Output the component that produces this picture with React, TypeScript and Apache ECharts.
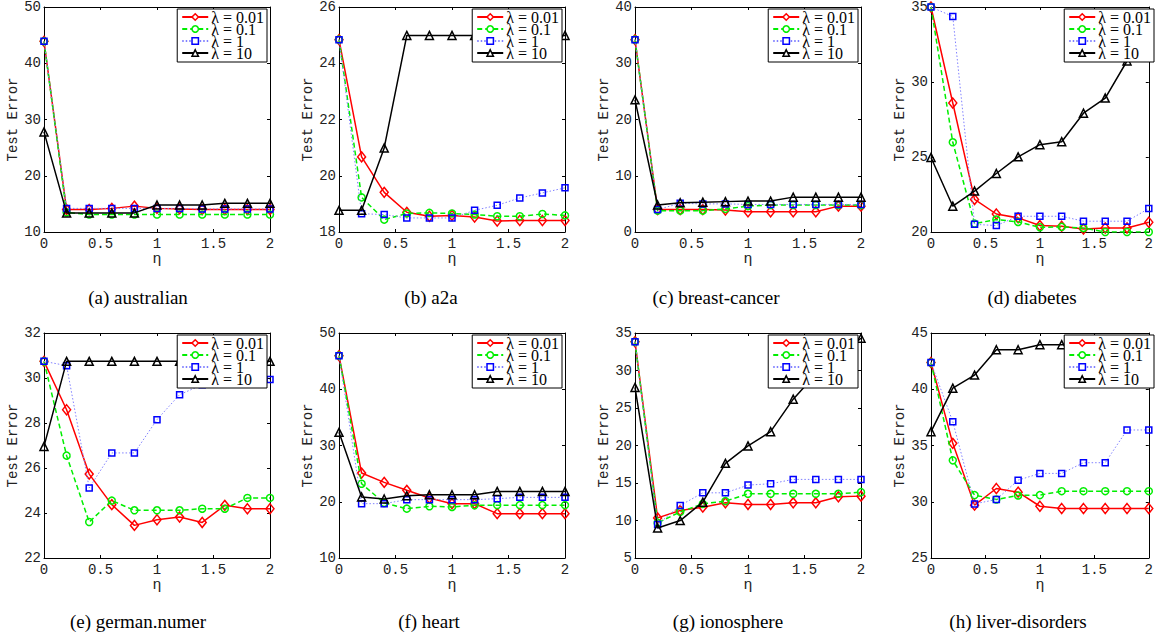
import React, { useEffect, useRef } from "react";
import * as echarts from "echarts";

const etas = [0, 0.2, 0.4, 0.6, 0.8, 1.0, 1.2, 1.4, 1.6, 1.8, 2.0];
const lambdaNames = ["λ = 0.01", "λ = 0.1", "λ = 1", "λ = 10"];
const captions = [
  "(a) australian",
  "(b) a2a",
  "(c) breast-cancer",
  "(d) diabetes",
  "(e) german.numer",
  "(f) heart",
  "(g) ionosphere",
  "(h) liver-disorders",
];
const yMins = [10, 18, 0, 20, 22, 10, 5, 25];
const yMaxs = [50, 26, 40, 35, 32, 50, 35, 45];
const yIntervals = [10, 2, 10, 5, 2, 10, 5, 5];

// (a) australian
const australianL001 = [43.9, 14.0, 14.0, 14.2, 14.6, 14.2, 14.1, 14.0, 14.0, 14.0, 14.0];
const australianL01 = [43.9, 13.5, 13.1, 13.1, 13.1, 13.1, 13.1, 13.1, 13.1, 13.1, 13.1];
const australianL1 = [43.9, 14.2, 14.2, 14.2, 14.2, 14.2, 14.2, 14.1, 14.1, 14.1, 14.1];
const australianL10 = [27.8, 13.4, 13.4, 13.4, 13.4, 14.8, 14.8, 14.8, 15.1, 15.1, 15.1];
// (b) a2a
const a2aL001 = [24.84, 20.67, 19.41, 18.7, 18.56, 18.59, 18.53, 18.39, 18.41, 18.41, 18.41];
const a2aL01 = [24.84, 19.23, 18.44, 18.66, 18.68, 18.66, 18.62, 18.56, 18.56, 18.64, 18.59];
const a2aL1 = [24.84, 18.65, 18.62, 18.5, 18.5, 18.5, 18.77, 18.95, 19.21, 19.39, 19.57];
const a2aL10 = [18.77, 18.77, 20.99, 24.99, 24.99, 24.99, 24.99, 24.99, 24.99, 24.99, 24.99];
// (c) breast-cancer
const breastL001 = [34.2, 4.0, 4.0, 4.0, 3.9, 3.6, 3.6, 3.6, 3.6, 4.6, 4.6];
const breastL01 = [34.2, 3.8, 3.8, 3.8, 4.1, 4.6, 4.8, 4.8, 4.8, 4.8, 4.8];
const breastL1 = [34.2, 4.0, 5.1, 5.0, 5.0, 4.9, 4.9, 4.9, 4.9, 4.9, 4.9];
const breastL10 = [23.5, 4.8, 5.2, 5.3, 5.4, 5.5, 5.5, 6.2, 6.2, 6.2, 6.2];
// (d) diabetes
const diabetesL001 = [35.0, 28.6, 22.17, 21.2, 20.94, 20.43, 20.38, 20.2, 20.27, 20.27, 20.65];
const diabetesL01 = [35.0, 25.98, 20.56, 20.83, 20.67, 20.31, 20.34, 20.27, 20.0, 20.0, 20.0];
const diabetesL1 = [35.0, 34.37, 20.51, 20.43, 21.05, 21.05, 21.05, 20.72, 20.72, 20.72, 21.57];
const diabetesL10 = [24.97, 21.72, 22.73, 23.9, 25.01, 25.82, 26.02, 27.92, 28.93, 31.4, 33.3];
// (e) german.numer
const germanL001 = [30.74, 28.59, 25.73, 24.37, 23.45, 23.7, 23.82, 23.58, 24.34, 24.19, 24.19];
const germanL01 = [30.74, 26.55, 23.6, 24.55, 24.12, 24.12, 24.12, 24.19, 24.19, 24.67, 24.67];
const germanL1 = [30.74, 30.55, 25.11, 26.67, 26.67, 28.15, 29.26, 29.7, 29.9, 29.9, 29.93];
const germanL10 = [26.96, 30.74, 30.74, 30.74, 30.74, 30.74, 30.74, 30.74, 30.74, 30.74, 30.74];
// (f) heart
const heartL001 = [45.97, 25.1, 23.44, 22.03, 20.67, 19.66, 19.66, 17.88, 17.88, 17.88, 17.88];
const heartL01 = [45.97, 23.2, 19.78, 18.77, 19.19, 19.07, 19.37, 19.4, 19.4, 19.4, 19.4];
const heartL1 = [45.97, 19.66, 19.66, 20.37, 20.37, 20.37, 20.37, 20.55, 20.78, 20.78, 20.78];
const heartL10 = [32.34, 20.84, 20.49, 21.07, 21.25, 21.25, 21.25, 21.84, 21.84, 21.84, 21.84];
// (g) ionosphere
const ionoL001 = [33.84, 10.35, 11.33, 11.78, 12.36, 12.14, 12.14, 12.36, 12.36, 13.16, 13.25];
const ionoL01 = [33.84, 9.68, 11.15, 12.22, 12.58, 13.56, 13.56, 13.56, 13.56, 13.56, 13.78];
const ionoL1 = [33.84, 9.46, 12.0, 13.69, 13.69, 14.72, 14.9, 15.48, 15.48, 15.48, 15.48];
const ionoL10 = [27.74, 9.01, 9.99, 12.45, 17.62, 19.94, 21.85, 26.18, 29.5, 31.8, 34.3];
// (h) liver-disorders
const liverL001 = [42.38, 35.19, 29.7, 31.18, 30.85, 29.6, 29.4, 29.4, 29.4, 29.4, 29.4];
const liverL01 = [42.38, 33.68, 30.59, 30.2, 30.56, 30.59, 30.94, 30.94, 30.94, 30.94, 30.94];
const liverL1 = [42.38, 37.12, 29.81, 30.2, 31.92, 32.52, 32.52, 33.47, 33.47, 36.38, 36.38];
const liverL10 = [36.23, 40.1, 41.26, 43.51, 43.51, 43.96, 43.96, 43.96, 43.96, 43.96, 43.96];

const panelData = [
  [australianL001, australianL01, australianL1, australianL10],
  [a2aL001, a2aL01, a2aL1, a2aL10],
  [breastL001, breastL01, breastL1, breastL10],
  [diabetesL001, diabetesL01, diabetesL1, diabetesL10],
  [germanL001, germanL01, germanL1, germanL10],
  [heartL001, heartL01, heartL1, heartL10],
  [ionoL001, ionoL01, ionoL1, ionoL10],
  [liverL001, liverL01, liverL1, liverL10],
];

const MONO = "'Liberation Mono', monospace";
const SERIF = "'Liberation Serif', serif";

const colLefts = [44, 339, 635, 931];
const rowTops = [7, 333];
const GW = 226;
const GH = 225;
const captionX = [138, 431, 716, 1032, 138, 429, 728, 1018];
const captionY = [297, 621];

const seriesStyles = [
  { color: "#ff0000", lineColor: "#ff0000", symbol: "diamond", size: [8, 10], type: "solid", width: 1.5 },
  { color: "#00ee00", lineColor: "#00ee00", symbol: "circle", size: 7, type: [5, 3], width: 1.5 },
  { color: "#0000ff", lineColor: "#8080ff", symbol: "rect", size: 6, type: [1.5, 2], width: 1 },
  { color: "#000000", lineColor: "#000000", symbol: "triangle", size: 8, type: "solid", width: 1.5 },
];

function buildOption() {
  const grid: any[] = [];
  const xAxis: any[] = [];
  const yAxis: any[] = [];
  const series: any[] = [];
  const legend: any[] = [];
  const graphic: any[] = [];

  for (let p = 0; p < 8; p++) {
    const col = p % 4;
    const row = Math.floor(p / 4);
    const left = colLefts[col];
    const top = rowTops[row];
    grid.push({ left, top, width: GW, height: GH, containLabel: false });

    const baseAxis = {
      gridIndex: p,
      type: "value",
      axisLine: { show: true, onZero: false, lineStyle: { color: "#000", width: 1 } },
      axisTick: { show: true, inside: true, length: 3, lineStyle: { color: "#000", width: 1 } },
      splitLine: { show: false },
    };
    xAxis.push({
      ...baseAxis,
      position: "bottom",
      min: 0,
      max: 2,
      interval: 0.5,
      axisLabel: { fontFamily: MONO, fontSize: 14, color: "#222", margin: 5 },
      name: "η",
      nameLocation: "middle",
      nameGap: 19,
      nameTextStyle: { fontFamily: MONO, fontSize: 15, color: "#222" },
    });
    xAxis.push({
      ...baseAxis,
      position: "top",
      min: 0,
      max: 2,
      interval: 0.5,
      axisLabel: { show: false },
    });
    yAxis.push({
      ...baseAxis,
      position: "left",
      min: yMins[p],
      max: yMaxs[p],
      interval: yIntervals[p],
      axisLabel: { fontFamily: MONO, fontSize: 14, color: "#222", margin: 3 },
      name: "Test Error",
      nameLocation: "middle",
      nameGap: 22,
      nameTextStyle: { fontFamily: MONO, fontSize: 14, color: "#222" },
    });
    yAxis.push({
      ...baseAxis,
      position: "right",
      min: yMins[p],
      max: yMaxs[p],
      interval: yIntervals[p],
      axisLabel: { show: false },
    });

    for (let s = 0; s < 4; s++) {
      const st = seriesStyles[s];
      series.push({
        type: "line",
        name: lambdaNames[s],
        xAxisIndex: 2 * p,
        yAxisIndex: 2 * p,
        data: etas.map((x, i) => [x, panelData[p][s][i]]),
        symbol: st.symbol,
        symbolSize: st.size,
        showAllSymbol: true,
        lineStyle: { color: st.lineColor, width: st.width, type: st.type },
        itemStyle: { color: "rgba(255,255,255,0)", borderColor: st.color, borderWidth: 1.5 },
        emphasis: { disabled: true },
        silent: true,
        z: 2 + s,
      });
    }

    legend.push({
      data: lambdaNames.map((name, s) => ({
        name,
        itemStyle: { color: "#fff", borderColor: seriesStyles[s].color, borderWidth: 1.5 },
      })),
      orient: "vertical",
      right: 1156 - (left + GW) + 3,
      top: top + 2,
      itemWidth: 26,
      itemHeight: 8,
      itemGap: -4,
      padding: [0, 3, 1, 4],
      borderColor: "#000",
      borderWidth: 1,
      borderRadius: 0,
      backgroundColor: "#fff",
      selectedMode: false,
      textStyle: { fontFamily: SERIF, fontSize: 16, color: "#000", padding: [0, 0, 0, -2] },
      z: 10,
    });

    graphic.push({
      type: "text",
      x: captionX[p],
      y: captionY[row],
      style: {
        text: captions[p],
        fontFamily: SERIF,
        fontSize: 19,
        fill: "#000",
        textAlign: "center",
        textVerticalAlign: "middle",
      },
    });
  }

  return {
    animation: false,
    backgroundColor: "#fff",
    grid,
    xAxis,
    yAxis,
    series,
    legend,
    graphic,
  };
}

export default function App() {
  const ref = useRef<HTMLDivElement>(null);
  useEffect(() => {
    if (!ref.current) return;
    const chart = echarts.init(ref.current, undefined, { renderer: "svg" });
    chart.setOption(buildOption() as any);
    return () => chart.dispose();
  }, []);
  return (
    <div
      ref={ref}
      style={{ position: "fixed", left: 0, top: 0, width: 1156, height: 637, background: "#fff" }}
    />
  );
}
